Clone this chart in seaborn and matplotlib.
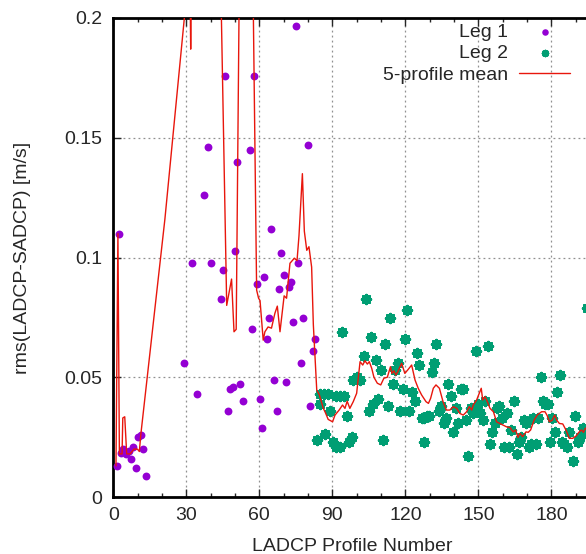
import matplotlib
matplotlib.use("Agg")
import matplotlib.pyplot as plt
import seaborn as sns
import pandas as pd

# ---- data ----
leg1_x = [1.4, 2.3, 3.0, 4.1, 5.2, 6.6, 7.2, 8.3, 9.2, 10.3, 11.3, 12.4, 13.3,
          29.2, 32.2, 34.2, 37.1, 39.0, 40.1, 44.1, 45.1, 46.0, 47.1, 47.9, 49.0,
          50.1, 51.0, 52.2, 53.2, 56.1, 57.2, 58.0, 59.2, 60.2, 61.1, 62.1, 63.1,
          64.1, 65.0, 66.0, 67.1, 68.1, 69.0, 70.0, 71.1, 72.0, 73.0, 74.0, 74.9,
          76.0, 77.0, 78.0, 79.9, 81.0, 82.0, 82.9]
leg1_y = [0.0129, 0.110, 0.0182, 0.020, 0.018, 0.019, 0.016, 0.021, 0.012, 0.025,
          0.026, 0.020, 0.0089, 0.0558, 0.0978, 0.043, 0.126, 0.146, 0.0978, 0.0828,
          0.0948, 0.1758, 0.0359, 0.045, 0.046, 0.1028, 0.1397, 0.047, 0.040, 0.1447,
          0.070, 0.1758, 0.0888, 0.0409, 0.0289, 0.0918, 0.066, 0.0749, 0.1119, 0.049,
          0.0359, 0.0868, 0.1017, 0.0928, 0.0479, 0.0878, 0.0898, 0.0729, 0.1966,
          0.0978, 0.0559, 0.0749, 0.1468, 0.038, 0.061, 0.066]

leg2_x = [83.9, 85.1, 84.9, 86.5, 86.9, 88.3, 89.0, 90.4, 91.5, 91.7, 93.1, 93.1,
          93.9, 94.9, 95.9, 97.0, 97.9, 98.6, 100.0, 101.4, 103.0, 104.0, 104.9,
          105.9, 106.9, 108.0, 108.9, 109.9, 111.0, 111.8, 112.8, 113.8, 114.9,
          115.8, 116.8, 117.8, 118.9, 119.8, 120.8, 121.6, 122.7, 123.8, 124.8,
          125.7, 126.7, 127.8, 127.8, 128.8, 129.7, 130.8, 131.8, 132.8, 133.7,
          134.8, 135.7, 136.6, 137.7, 138.7, 139.7, 140.8, 141.7, 142.7, 143.8,
          144.8, 145.9, 146.8, 147.9, 148.9, 149.9, 150.8, 151.8, 152.9, 153.8,
          154.8, 155.8, 156.9, 157.7, 158.7, 159.7, 160.6, 161.7, 162.7, 163.6,
          164.7, 165.7, 166.7, 167.6, 168.6, 169.7, 170.7, 171.6, 172.6, 173.6,
          174.5, 175.6, 176.6, 177.5, 178.5, 179.5, 180.4, 181.4, 182.5, 183.5,
          184.4, 185.4, 186.3, 187.3, 188.7, 189.8, 190.8, 191.7, 192.9, 193.9,
          194.5]
leg2_y = [0.0238, 0.043, 0.039, 0.043, 0.0262, 0.043, 0.036, 0.0231, 0.021, 0.0422,
          0.021, 0.042, 0.0689, 0.042, 0.034, 0.023, 0.025, 0.049, 0.050, 0.049,
          0.059, 0.0828, 0.036, 0.0669, 0.039, 0.0572, 0.041, 0.053, 0.0238, 0.0639,
          0.038, 0.0749, 0.047, 0.053, 0.056, 0.036, 0.045, 0.066, 0.078, 0.036,
          0.044, 0.040, 0.060, 0.055, 0.033, 0.033, 0.023, 0.034, 0.034, 0.052,
          0.056, 0.064, 0.036, 0.038, 0.031, 0.033, 0.047, 0.042, 0.027, 0.037,
          0.031, 0.045, 0.045, 0.032, 0.017, 0.037, 0.035, 0.061, 0.039, 0.035,
          0.032, 0.040, 0.063, 0.022, 0.027, 0.031, 0.037, 0.038, 0.033, 0.021,
          0.035, 0.021, 0.028, 0.040, 0.018, 0.023, 0.025, 0.032, 0.031, 0.021,
          0.022, 0.033, 0.022, 0.033, 0.050, 0.040, 0.039, 0.039, 0.023, 0.033,
          0.027, 0.044, 0.051, 0.023, 0.022, 0.021, 0.027, 0.015, 0.034, 0.023,
          0.025, 0.029, 0.028, 0.079]

mean_x = [1.1, 1.9, 2.5, 3.6, 3.9, 4.7, 5.5, 6.9, 8.5, 9.9, 10.7, 11.3, 21.2,
          29.2, 30.1, 31.3, 31.8, 32.3, 43.7, 46.6, 48.6, 49.6, 50.5, 52.0, 57.1,
          58.9, 59.7, 60.3, 61.6, 62.3, 63.6, 65.0, 66.4, 67.4, 68.5, 70.2, 71.2,
          72.6, 74.4, 75.5, 76.3, 77.7, 78.5, 79.5, 80.4, 81.5, 82.2, 83.6, 84.7,
          86.3, 87.0, 88.3, 90.1, 91.1, 92.8, 94.2, 95.2, 96.1, 97.2, 98.6, 100.0,
          101.4, 102.5, 103.4, 104.4, 105.2, 106.2, 107.1, 108.5, 109.9, 111.2,
          112.6, 113.9, 114.5, 115.3, 116.1, 116.9, 118.5, 119.8, 121.2, 122.6,
          124.0, 125.3, 126.7, 128.5, 129.5, 130.4, 131.5, 132.6, 134.0, 135.5,
          136.9, 138.3, 139.7, 141.1, 142.4, 143.8, 145.2, 146.3, 147.3, 147.9,
          149.3, 150.4, 151.2, 151.8, 152.7, 153.7, 154.8, 156.2, 157.5, 158.8,
          160.2, 161.6, 163.0, 164.3, 165.3, 166.3, 167.1, 168.2, 169.6, 170.5,
          171.5, 172.9, 174.2, 176.0, 177.4, 178.3, 179.2, 180.3, 181.4, 182.2,
          183.3, 184.7, 186.0, 187.4, 188.8, 190.2, 191.3, 192.4, 193.2, 194.0,
          196.0, 198.0]
mean_y = [0.013, 0.110, 0.018, 0.018, 0.033, 0.0335, 0.018, 0.018, 0.020, 0.020,
          0.019, 0.026, 0.116, 0.200, 0.240, 0.240, 0.187, 0.240, 0.240, 0.080,
          0.091, 0.069, 0.070, 0.240, 0.240, 0.0864, 0.083, 0.082, 0.0655, 0.069,
          0.071, 0.0705, 0.0767, 0.0797, 0.069, 0.084, 0.083, 0.0976, 0.0997,
          0.0987, 0.109, 0.135, 0.111, 0.103, 0.1045, 0.096, 0.072, 0.0447, 0.0426,
          0.037, 0.0356, 0.0324, 0.0314, 0.0342, 0.0363, 0.0384, 0.037, 0.040,
          0.037, 0.0398, 0.0433, 0.0565, 0.0551, 0.0569, 0.0555, 0.0565, 0.0537,
          0.050, 0.0475, 0.0468, 0.0496, 0.050, 0.0544, 0.0516, 0.0527, 0.0509,
          0.0523, 0.0558, 0.0516, 0.0533, 0.0551, 0.0488, 0.0454, 0.0426, 0.0398,
          0.0391, 0.0412, 0.0454, 0.0468, 0.0454, 0.0398, 0.0363, 0.0363, 0.0377,
          0.037, 0.0349, 0.0342, 0.0356, 0.0377, 0.0363, 0.0384, 0.0405, 0.0433,
          0.0454, 0.0405, 0.0419, 0.0398, 0.037, 0.0356, 0.0314, 0.0307, 0.030,
          0.0293, 0.029, 0.0272, 0.028, 0.0249, 0.0266, 0.0252, 0.0272, 0.027,
          0.028, 0.0321, 0.0342, 0.0356, 0.0356, 0.034, 0.0314, 0.032, 0.0342,
          0.0321, 0.0307, 0.0305, 0.028, 0.0245, 0.0245, 0.0255, 0.027, 0.028,
          0.027, 0.0287, 0.029, 0.030]

x_ticks = [0, 30, 60, 90, 120, 150, 180]
y_ticks = [0, 0.05, 0.1, 0.15, 0.2]
y_ticklabels = ["0", "0.05", "0.1", "0.15", "0.2"]

df1 = pd.DataFrame({"x": leg1_x, "y": leg1_y})
df2 = pd.DataFrame({"x": leg2_x, "y": leg2_y})
dfm = pd.DataFrame({"x": mean_x, "y": mean_y})

sns.set_style("ticks")
plt.rcParams["font.family"] = ["Liberation Sans", "DejaVu Sans"]

FS = 14
fig = plt.figure(figsize=(5.86, 5.54), dpi=100)
ax = fig.add_axes([113.3 / 586, 57 / 554, (600 - 113.3) / 586, 479 / 554])

sns.scatterplot(data=df1, x="x", y="y", ax=ax, color="#9400D3", marker="o",
                s=32, linewidth=0, label="Leg 1", zorder=3)
sns.scatterplot(data=df2, x="x", y="y", ax=ax, color="#009E73", marker=(8, 2, 0),
                s=34, linewidth=2.4, edgecolor="#009E73", label="Leg 2", zorder=3)
sns.lineplot(data=dfm, x="x", y="y", ax=ax, color="#e8160c", lw=1.0,
             sort=False, estimator=None, label="5-profile mean", zorder=4)

ax.set_xlim(0, 200)
ax.set_ylim(0, 0.2)
ax.set_xticks(x_ticks)
ax.set_xticks(list(range(10, 200, 10)), minor=True)
ax.set_yticks(y_ticks)
ax.set_yticklabels(y_ticklabels)
ax.tick_params(axis="both", which="major", direction="in", length=6, width=1,
               labelsize=FS, top=True, right=True, pad=8)
ax.tick_params(axis="x", which="minor", direction="in", length=3, width=1,
               top=True)
ax.tick_params(axis="x", which="major", pad=7)
ax.grid(True, which="major", color="#909090", linestyle=(0, (1.5, 2.5)), lw=0.9)
for sp in ax.spines.values():
    sp.set_linewidth(2)
    sp.set_color("black")
    sp.set_visible(True)

ax.set_xlabel("LADCP Profile Number", fontsize=FS, labelpad=10)
ax.set_ylabel("rms(LADCP-SADCP) [m/s]", fontsize=FS, labelpad=24)
ax.xaxis.label.set_position((0.49, 0))

handles, labels = ax.get_legend_handles_labels()
leg = ax.legend(handles, labels, loc="upper right",
                bbox_to_anchor=(570 / 586, 1 - 23 / 554),
                bbox_transform=fig.transFigure, frameon=False, markerfirst=False,
                fontsize=FS, handlelength=2.6, handletextpad=0.6,
                labelspacing=0.2, borderpad=0, borderaxespad=0)
lh = leg.legend_handles
lh[0].set_sizes([22])
lh[1].set_sizes([14])
lh[1].set_linewidth(1.8)

fig.savefig("out.png", dpi=100)
